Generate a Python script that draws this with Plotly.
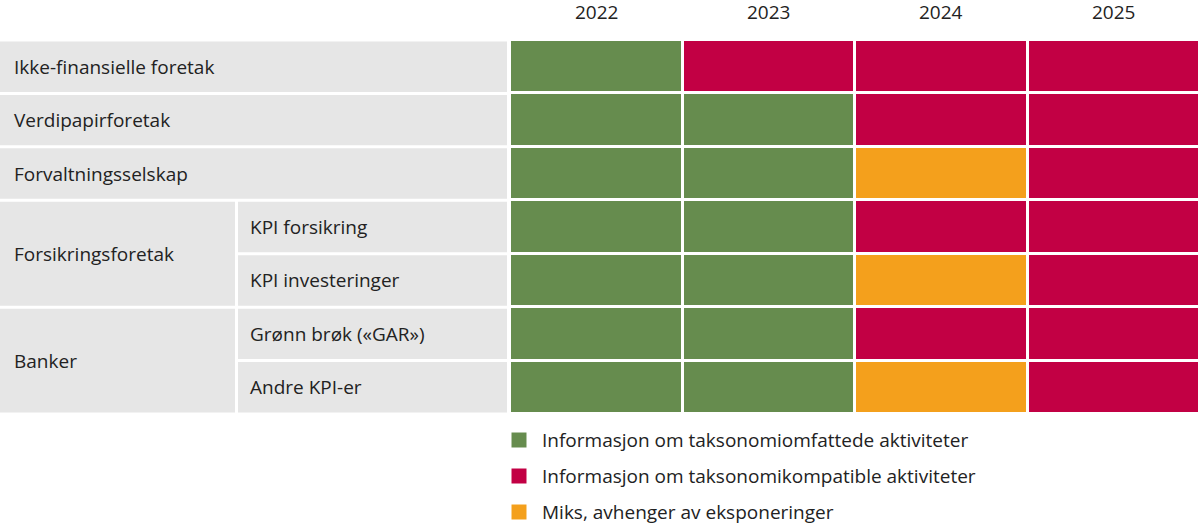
import plotly.graph_objects as go

years = ["2022", "2023", "2024", "2025"]
groups = ["Ikke-finansielle foretak", "Verdipapirforetak", "Forvaltningsselskap", "Forsikringsforetak", "Banker"]
group_rows = [[0], [1], [2], [3, 4], [5, 6]]
sub_labels = {3: "KPI forsikring", 4: "KPI investeringer", 5: "Grønn brøk («GAR»)", 6: "Andre KPI-er"}
# 0 = omfattede (green), 1 = kompatible (red), 2 = miks (orange)
status = [
    [0, 1, 1, 1],
    [0, 0, 1, 1],
    [0, 0, 2, 1],
    [0, 0, 1, 1],
    [0, 0, 2, 1],
    [0, 0, 1, 1],
    [0, 0, 2, 1],
]
legend_labels = ["Informasjon om taksonomiomfattede aktiviteter",
                 "Informasjon om taksonomikompatible aktiviteter",
                 "Miks, avhenger av eksponeringer"]
colors = ["#668c4e", "#c20044", "#f4a01c"]
grey = "#e6e6e6"

W, H = 1200, 528
x0px, colw = 510, (1200 - 510) / 4
top, rowh = 40, (414 - 40) / 7
def px2x(p): return (p - x0px) / colw - 0.5
def py2y(p): return (p - top) / rowh - 0.5

fig = go.Figure()
fig.add_trace(go.Heatmap(
    z=status, x=list(range(4)), y=list(range(7)),
    colorscale=[[0, colors[0]], [0.333, colors[0]], [0.333, colors[1]], [0.667, colors[1]], [0.667, colors[2]], [1, colors[2]]],
    zmin=0, zmax=2, showscale=False, xgap=3, ygap=3, hoverinfo="skip"))

shapes, ann = [], []
g = 3 / rowh / 2
fs = 19
for name, rows in zip(groups, group_rows):
    r0, r1 = rows[0], rows[-1]
    right = 507 if len(rows) == 1 else 235
    shapes.append(dict(type="rect", xref="x", yref="y", x0=px2x(0), x1=px2x(right),
                       y0=r0 - 0.5 + g, y1=r1 + 0.5 - g, fillcolor=grey, line_width=0, layer="below"))
    ann.append(dict(x=px2x(12), y=(r0 + r1) / 2, text=name, xanchor="left", showarrow=False,
                    font=dict(size=fs, color="#222")))
    if len(rows) > 1:
        for r in rows:
            shapes.append(dict(type="rect", xref="x", yref="y", x0=px2x(238), x1=px2x(507),
                               y0=r - 0.5 + g, y1=r + 0.5 - g, fillcolor=grey, line_width=0, layer="below"))
            ann.append(dict(x=px2x(248), y=r, text=sub_labels[r], xanchor="left", showarrow=False,
                            font=dict(size=fs, color="#222")))
for i, yv in enumerate(years):
    ann.append(dict(x=i, y=py2y(12), text=yv, showarrow=False, font=dict(size=fs, color="#222")))
for i, lab in enumerate(legend_labels):
    yy = py2y(440 + 36 * i)
    fig.add_trace(go.Scatter(x=[px2x(519)], y=[yy], mode="markers", hoverinfo="skip",
                             marker=dict(symbol="square", size=15, color=colors[i]), showlegend=False))
    ann.append(dict(x=px2x(540), y=yy, text=lab, xanchor="left", showarrow=False,
                    font=dict(size=fs, color="#222")))

fig.update_layout(width=W, height=H, margin=dict(l=0, r=0, t=0, b=0),
                  plot_bgcolor="white", paper_bgcolor="white",
                  font=dict(family="Open Sans"), shapes=shapes, annotations=ann,
                  xaxis=dict(range=[px2x(0), px2x(1200)], visible=False, fixedrange=True),
                  yaxis=dict(range=[py2y(528), py2y(0)], visible=False, fixedrange=True))
fig.write_html("out.html", post_script="document.body.style.margin='0';document.body.style.overflow='hidden';",
               config={"displayModeBar": False})
